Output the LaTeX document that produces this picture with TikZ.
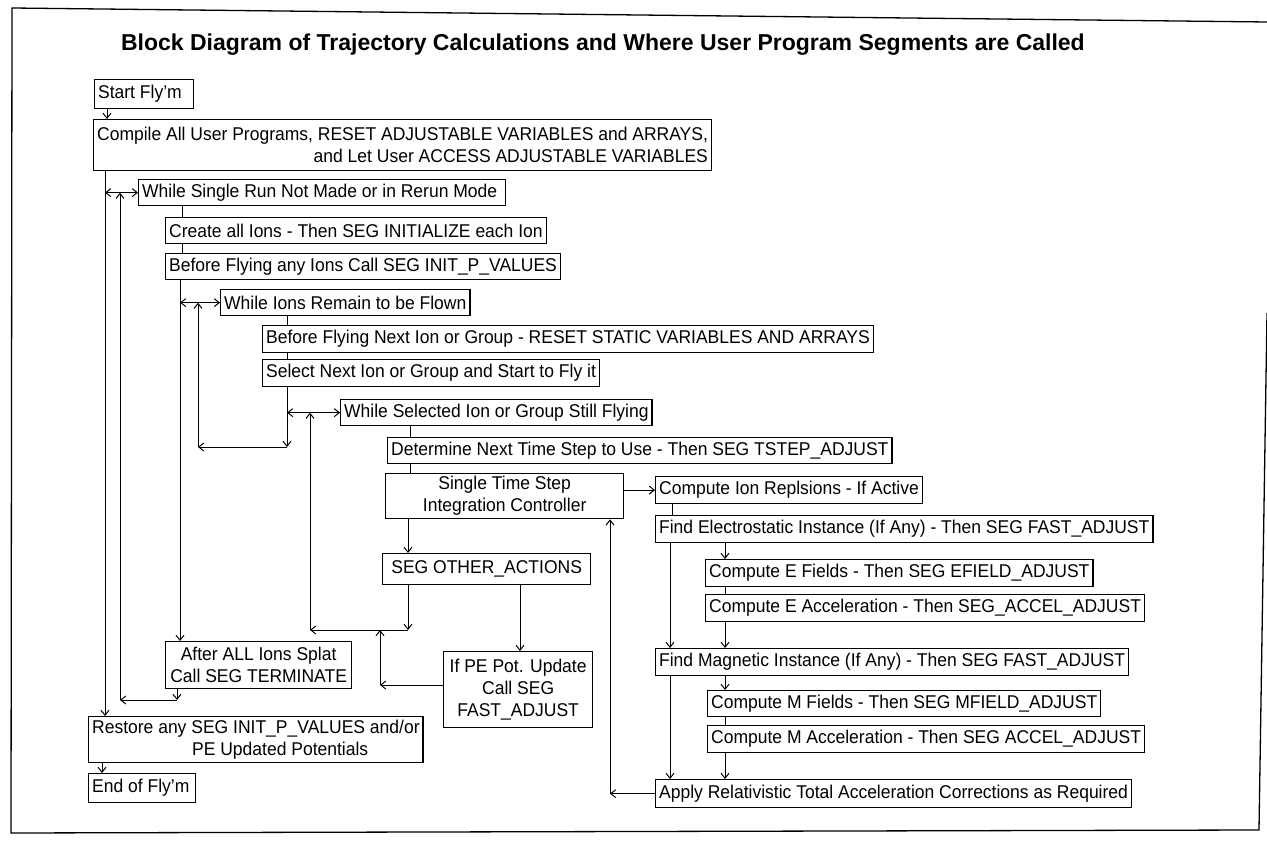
\documentclass[tikz,border=0pt]{standalone}
\usepackage{fontspec}
\setmainfont{Liberation Sans}[FakeStretch=0.946]
\newfontfamily\titlefont{Liberation Sans}
\usetikzlibrary{arrows.meta,calc}
\begin{document}
\begin{tikzpicture}[x=1pt,y=-1pt,
  bx/.style={draw, line width=1.3pt, inner xsep=3.5pt, inner ysep=0pt,
    minimum height=27pt, anchor=north west,
    font=\fontsize{18.5}{22}\selectfont, align=left},
  ln/.style={line width=1pt},
  ar/.style={line width=1pt, -{Straight Barb[length=5pt,width=8pt]}},
  dar/.style={line width=1pt, {Straight Barb[length=5pt,width=8pt]}-{Straight Barb[length=5pt,width=8pt]}},
  frame/.style={line width=1.3pt}]
\useasboundingbox (0,0) rectangle (1267,842);
% frame
\draw[frame] (1267,22) -- (12,8) -- (11,833) -- (1259,830) -- (1267,313);
% title
\node[font=\titlefont\bfseries\fontsize{23}{27}\selectfont] (title) at (603,45)
  {Block Diagram of Trajectory Calculations and Where User Program Segments are Called};
% boxes
\node[bx, minimum height=29pt] (start) at (94,79) {\makebox[92pt][l]{Start Fly'm}};
\node[bx, minimum height=51pt, align=right] (compile) at (93,119)
  {Compile All User Programs, RESET ADJUSTABLE VARIABLES and ARRAYS,\\and Let User ACCESS ADJUSTABLE VARIABLES};
\node[bx, minimum height=26pt] (whileA) at (138,179) {\makebox[360pt][l]{While Single Run Not Made or in Rerun Mode}};
\node[bx, minimum height=26pt] (create) at (165,217) {Create all Ions - Then SEG INITIALIZE each Ion};
\node[bx, minimum height=26pt] (beforeAny) at (165,253) {Before Flying any Ions Call SEG INIT\_P\_VALUES};
\node[bx, minimum height=26pt] (whileB) at (220,289) {While Ions Remain to be Flown};
\node[bx] (beforeNext) at (262,325) {Before Flying Next Ion or Group - RESET STATIC VARIABLES AND ARRAYS};
\node[bx] (select) at (262,359) {Select Next Ion or Group and Start to Fly it};
\node[bx, minimum height=26pt] (whileC) at (340,399) {While Selected Ion or Group Still Flying};
\node[bx, minimum height=26pt] (determine) at (387,437) {Determine Next Time Step to Use - Then SEG TSTEP\_ADJUST};
\node[bx, minimum height=45pt, minimum width=238pt, align=center] (single) at (385,473)
  {Single Time Step\\Integration Controller};
\node[bx] (repl) at (655,476) {Compute Ion Replsions - If Active};
\node[bx] (findE) at (655,515) {Find Electrostatic Instance (If Any) - Then SEG FAST\_ADJUST};
\node[bx, minimum height=31pt, minimum width=208pt, align=center] (other) at (382,553) {SEG OTHER\_ACTIONS};
\node[bx] (eF) at (705,559) {Compute E Fields - Then SEG EFIELD\_ADJUST};
\node[bx] (eA) at (705,594) {Compute E Acceleration - Then SEG\_ACCEL\_ADJUST};
\node[bx] (findM) at (655,648) {Find Magnetic Instance (If Any) - Then SEG FAST\_ADJUST};
\node[bx, minimum height=47pt, minimum width=186pt, align=center] (after) at (165,641)
  {After ALL Ions Splat\\Call SEG TERMINATE};
\node[bx, minimum height=76pt, minimum width=149pt, align=center] (pe) at (443,651)
  {If PE Pot. Update\\Call SEG\\FAST\_ADJUST};
\node[bx, minimum height=26pt] (mF) at (707,690) {Compute M Fields - Then SEG MFIELD\_ADJUST};
\node[bx] (mA) at (707,725) {Compute M Acceleration - Then SEG ACCEL\_ADJUST};
\node[bx, minimum height=46pt, minimum width=334pt] (restore) at (88,716)
  {Restore any SEG INIT\_P\_VALUES and/or\\\hspace*{100pt}PE Updated Potentials};
\node[bx, minimum height=29pt] (end) at (88,773) {\makebox[100pt][l]{End of Fly'm}};
\node[bx, minimum height=28pt] (apply) at (655,779) {Apply Relativistic Total Acceleration Corrections as Required};
% columns and corners
\coordinate (x107) at (107,0);
\coordinate (x105) at (105,0);
\coordinate (x102) at (102,0);
\coordinate (x182) at (182,0);
\coordinate (x180) at (180,0);
\coordinate (x177) at (177,0);
\coordinate (x287) at (287,0);
\coordinate (x410) at (410,0);
\coordinate (x408) at (408,0);
\coordinate (x520) at (520,0);
\coordinate (x610) at (610,0);
\coordinate (x672) at (672,0);
\coordinate (x670) at (670,0);
\coordinate (x725) at (725,0);
\coordinate (cA1) at (177,700);
\coordinate (cA2) at (120,700);
\coordinate (cB1) at (287,447);
\coordinate (cB2) at (198,447);
\coordinate (cC1) at (408,630);
\coordinate (cC2) at (310,630);
\coordinate (cP) at (380,685);
% outer loop
\draw[ar] (x107 |- start.south) -- (x107 |- compile.north);
\draw[ar] (x105 |- compile.south) -- (x105 |- restore.north);
\draw[ar] (x102 |- restore.south) -- (x102 |- end.north);
\draw[dar] (x105 |- whileA.west) -- (whileA.west);
\draw[ln] (x182 |- whileA.south) -- (x182 |- create.north);
\draw[ln] (x182 |- create.south) -- (x182 |- beforeAny.north);
\draw[ar] (x180 |- beforeAny.south) -- (x180 |- after.north);
\draw[ar] (x177 |- after.south) -- (cA1);
\draw[ar] (cA1) -- (cA2);
\draw[ar] (cA2) -- (cA2 |- whileA.west);
% ion loop
\draw[dar] (x180 |- whileB.west) -- (whileB.west);
\draw[ln] (x287 |- whileB.south) -- (x287 |- beforeNext.north);
\draw[ln] (x287 |- beforeNext.south) -- (x287 |- select.north);
\draw[ar] (x287 |- select.south) -- (cB1);
\draw[ar] (cB1) -- (cB2);
\draw[ar] (cB2) -- (cB2 |- whileB.west);
% flying loop
\draw[dar] (x287 |- whileC.west) -- (whileC.west);
\draw[ln] (x410 |- whileC.south) -- (x410 |- determine.north);
\draw[ln] (x410 |- determine.south) -- (x410 |- single.north);
\draw[ar] (x408 |- single.south) -- (x408 |- other.north);
\draw[ar] (x408 |- other.south) -- (cC1);
\draw[ar] (cC1) -- (cC2);
\draw[ar] (cC2) -- (cC2 |- whileC.west);
\draw[ar] (x520 |- other.south) -- (x520 |- pe.north);
\draw[ar] (pe.west |- cP) -- (cP);
\draw[ar] (cP) -- (cP |- cC1);
% integration step
\draw[ar] (single.east |- repl.west) -- (repl.west);
\draw[ln] (x672 |- repl.south) -- (x672 |- findE.north);
\draw[ar] (x670 |- findE.south) -- (x670 |- findM.north);
\draw[ar] (x725 |- findE.south) -- (x725 |- eF.north);
\draw[ln] (x725 |- eF.south) -- (x725 |- eA.north);
\draw[ar] (x725 |- eA.south) -- (x725 |- findM.north);
\draw[ar] (x670 |- findM.south) -- (x670 |- apply.north);
\draw[ar] (x725 |- findM.south) -- (x725 |- mF.north);
\draw[ln] (x725 |- mF.south) -- (x725 |- mA.north);
\draw[ar] (x725 |- mA.south) -- (x725 |- apply.north);
\draw[ar] (apply.west) -- (x610 |- apply.west);
\draw[ar] (x610 |- apply.west) -- (x610 |- single.south);
\end{tikzpicture}
\end{document}
